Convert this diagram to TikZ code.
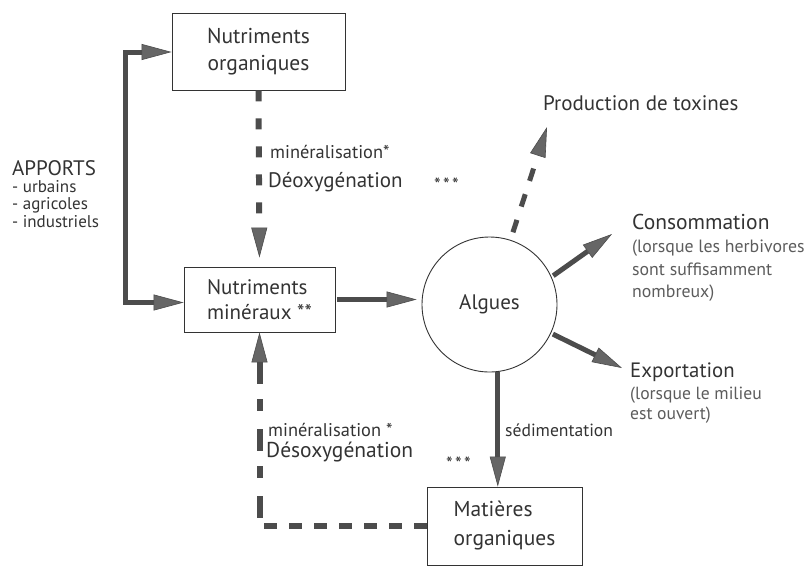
\documentclass[tikz,border=0pt]{standalone}
\usepackage{fontspec}
\setmainfont{PT Sans}
\usetikzlibrary{arrows.meta}
\definecolor{ink}{gray}{0.2}
\definecolor{soft}{gray}{0.36}
\definecolor{arr}{gray}{0.3}
\definecolor{arrhead}{gray}{0.4}
\tikzset{
  tipshape/.style={Triangle[length=30pt,width=16pt,fill=arrhead,color=arr,line width=0.6pt]},
  flow/.style={line width=5pt, draw=arr, line join=miter, -{Triangle[length=30pt,width=16pt,fill=arrhead,color=arr,line width=0.6pt]}},
  rflow/.style={line width=6pt, draw=arr, {Triangle[length=30pt,width=16pt,fill=arrhead,color=arr,line width=0.6pt]}-},
  box/.style={draw=ink, line width=0.9pt, inner sep=0pt, align=left, text=ink},
  dflow/.style={flow, line width=6pt, dash pattern=on 11pt off 17pt},
  dline/.style={line width=6pt, draw=arr, dash pattern=on 13pt off 12pt},
  lbl/.style={inner sep=0pt, anchor=west, text=ink, align=left},
  sub/.style={lbl, text=soft, font=\fontsize{17.8}{22.5}\selectfont},
  stars/.style={lbl, font=\fontsize{19}{20}\selectfont\addfontfeatures{LetterSpace=12}},
}
\begin{document}
\begin{tikzpicture}[x=1pt,y=-1pt]
\useasboundingbox (0,0) rectangle (811,566);
% boxes
\node[box, minimum width=173pt, minimum height=77pt, align=center,
      font=\fontsize{21.5}{27}\selectfont] (no) at (258.5,51.5) {Nutriments\\organiques};
\node[box, minimum width=151pt, minimum height=65pt,
      font=\fontsize{21}{25}\selectfont] (nm) at (259.5,299.5) {Nutriments\\minéraux **};
\node[draw=ink, circle, line width=0.9pt, minimum size=135pt, inner sep=0pt,
      text=ink, font=\fontsize{21}{24}\selectfont] (alg) at (489.5,304.5) {Algues};
\node[box, minimum width=155pt, minimum height=78pt,
      font=\fontsize{21.5}{29}\selectfont] (mat) at (504.5,526) {Matières\\organiques};
% labels
\node[lbl, font=\fontsize{21}{24}\selectfont] (apports) at (12,168) {APPORTS};
\node[lbl, font=\fontsize{17}{17.5}\selectfont] (list) at (12,204) {- urbains\\- agricoles\\- industriels};
\node[lbl, font=\fontsize{18.4}{20}\selectfont] (min1) at (270,152) {minéralisation*};
\node[lbl, font=\fontsize{21}{24}\selectfont] (deox1) at (268,182) {Déoxygénation};
\node[stars] (st1) at (434,185) {***};
\node[lbl, font=\fontsize{18.4}{20}\selectfont] (min2) at (268,430) {minéralisation *};
\node[lbl, font=\fontsize{21.5}{24}\selectfont] (deox2) at (266,452) {Désoxygénation};
\node[stars] (st2) at (446,464) {***};
\node[lbl, font=\fontsize{21}{24}\selectfont] (tox) at (543,103) {Production de toxines};
\node[lbl, font=\fontsize{21.5}{24}\selectfont] (cons) at (632,222) {Consommation};
\node[sub] (conssub) at (632,271) {(lorsque les herbivores\\sont suffisamment\\nombreux)};
\node[lbl, font=\fontsize{20.8}{24}\selectfont] (exp) at (630,372) {Exportation};
\node[sub, font=\fontsize{17.6}{20.5}\selectfont] (expsub) at (630,405) {(lorsque le milieu\\est ouvert)};
\node[lbl, font=\fontsize{17.6}{20}\selectfont] (sed) at (505,430) {sédimentation};
% coordinates for free ends
\coordinate (ap) at (125,52);
\coordinate (toxtip) at (547,127);
\coordinate (constip) at (612,234);
\coordinate (exptip) at (622,368);
\coordinate (corner) at (nm.south |- mat.west);
% connectors
\draw[flow] (ap) -- (ap -| no.west);
\draw[flow, line cap=rect] (ap) |- ([yshift=-3pt]nm.west);
\draw[dflow, shorten >=9pt] (no.south) -- (nm.north);
\draw[flow, shorten <=2pt, shorten >=5pt] (nm.east) -- (nm.east -| alg.west);
\draw[dflow, line width=5pt, dash pattern=on 13pt off 14pt, shorten <=8pt] (alg.72) -- (toxtip);
\draw[flow, shorten <=2pt] (alg.24) -- (constip);
\draw[flow, shorten <=2pt] (alg.-25) -- (exptip);
\draw[flow] (alg.-83) -- (alg.-83 |- mat.north);
\draw[dline] (mat.west) -- ([xshift=-3pt]corner);
\draw[rflow, dash pattern=on 22pt off 15pt on 12pt off 18pt] (nm.south) -- ([yshift=-3pt]corner);
\end{tikzpicture}
\end{document}
